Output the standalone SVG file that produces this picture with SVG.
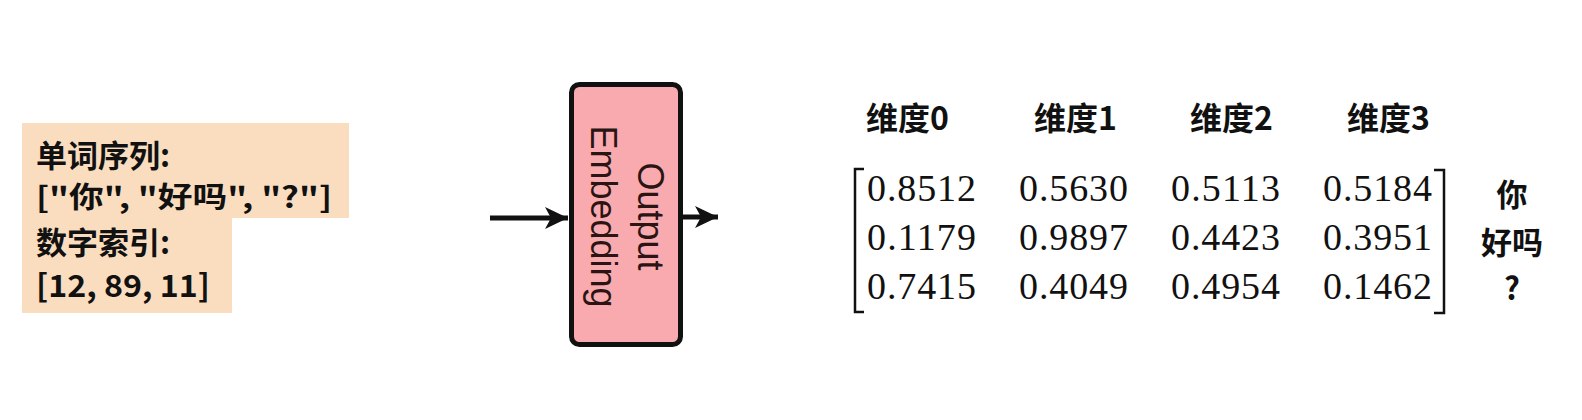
<svg xmlns="http://www.w3.org/2000/svg" width="1582" height="420" viewBox="0 0 1582 420">
  <style>
    .cjk { font-family: "Noto Sans CJK SC", "Liberation Sans", sans-serif; font-weight: 700; fill: #111; }
    .num { font-family: "Liberation Serif", "DejaVu Serif", serif; font-size: 38px; fill: #111; }
    .emb { font-family: "Liberation Sans", Arial, sans-serif; font-size: 36px; fill: #2a1414; }
    .conn { stroke: #111; stroke-width: 5; fill: none; }
    .brk { stroke: #111; stroke-width: 2.5; fill: none; }
  </style>
  <defs>
    <marker id="arr" markerUnits="userSpaceOnUse" viewBox="-25 -12 26 24" refX="0" refY="0" markerWidth="26" markerHeight="24" orient="auto">
      <path d="M0,0 L-23,-11 L-17,0 L-23,11 Z" fill="#111"/>
    </marker>
  </defs>
  <rect width="1582" height="420" fill="#ffffff"/>

  <g id="input-words">
    <rect x="22" y="123" width="327" height="95" fill="#FADDBF"/>
    <text class="cjk" x="36" y="167" font-size="31">单词序列:</text>
    <text class="cjk" x="36" y="208" font-size="29" textLength="296" lengthAdjust="spacingAndGlyphs">["你", "好吗", "?"]</text>
  </g>
  <g id="input-indices">
    <rect x="22" y="218" width="210" height="95" fill="#FADDBF"/>
    <text class="cjk" x="36" y="254" font-size="31">数字索引:</text>
    <text class="cjk" x="36" y="297" font-size="31" textLength="174" lengthAdjust="spacingAndGlyphs">[12, 89, 11]</text>
  </g>

  <g id="output-embedding">
    <rect x="571.5" y="84.5" width="109" height="260" rx="8" fill="#F9AAAE" stroke="#111" stroke-width="5"/>
    <g transform="translate(626.5,216.5) rotate(90)">
      <text class="emb" x="0" y="-11.5" text-anchor="middle">Output</text>
      <text class="emb" x="0" y="35.5" text-anchor="middle">Embedding</text>
    </g>
  </g>

  <g id="connectors">
    <line class="conn" x1="490" y1="218" x2="568" y2="218" marker-end="url(#arr)"/>
    <line class="conn" x1="683" y1="217" x2="718" y2="217" marker-end="url(#arr)"/>
  </g>

  <g id="headers">
    <text class="cjk" x="866" y="130" font-size="32">维度0</text>
    <text class="cjk" x="1034" y="130" font-size="32">维度1</text>
    <text class="cjk" x="1190" y="130" font-size="32">维度2</text>
    <text class="cjk" x="1347" y="130" font-size="32">维度3</text>
  </g>

  <g id="matrix">
    <path class="brk" d="M864,169 H855 V312 H864"/>
    <path class="brk" d="M1434,170 H1444 V313 H1434"/>
    <text class="num" x="867" y="201" textLength="109" lengthAdjust="spacing">0.8512</text>
    <text class="num" x="1019" y="201" textLength="109" lengthAdjust="spacing">0.5630</text>
    <text class="num" x="1171" y="201" textLength="109" lengthAdjust="spacing">0.5113</text>
    <text class="num" x="1323" y="201" textLength="109" lengthAdjust="spacing">0.5184</text>
    <text class="num" x="867" y="250" textLength="109" lengthAdjust="spacing">0.1179</text>
    <text class="num" x="1019" y="250" textLength="109" lengthAdjust="spacing">0.9897</text>
    <text class="num" x="1171" y="250" textLength="109" lengthAdjust="spacing">0.4423</text>
    <text class="num" x="1323" y="250" textLength="109" lengthAdjust="spacing">0.3951</text>
    <text class="num" x="867" y="299" textLength="109" lengthAdjust="spacing">0.7415</text>
    <text class="num" x="1019" y="299" textLength="109" lengthAdjust="spacing">0.4049</text>
    <text class="num" x="1171" y="299" textLength="109" lengthAdjust="spacing">0.4954</text>
    <text class="num" x="1323" y="299" textLength="109" lengthAdjust="spacing">0.1462</text>
  </g>

  <g id="row-labels">
    <text class="cjk" x="1512" y="206" font-size="31" text-anchor="middle">你</text>
    <text class="cjk" x="1512" y="254" font-size="31" text-anchor="middle">好吗</text>
    <text class="cjk" x="1512" y="300" font-size="31" text-anchor="middle">?</text>
  </g>
</svg>
